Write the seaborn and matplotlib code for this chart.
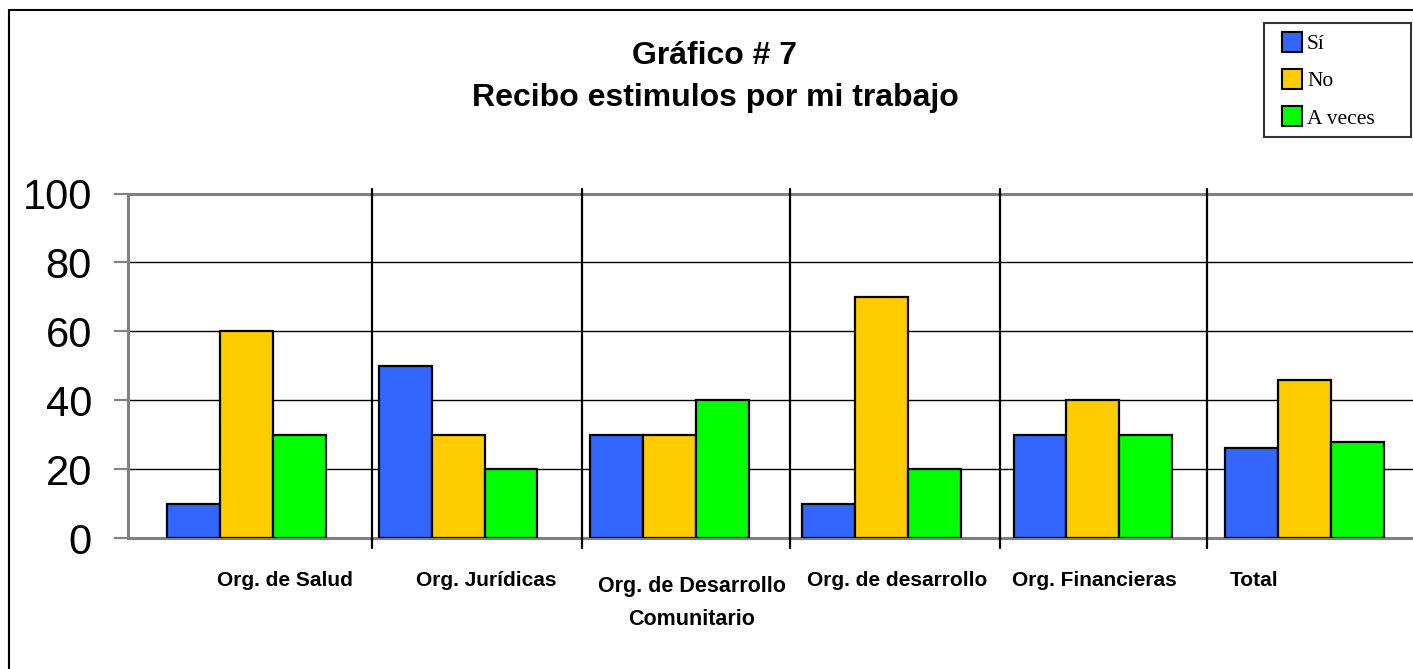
import matplotlib
matplotlib.use("Agg")
import matplotlib.pyplot as plt
import matplotlib.transforms as mtransforms
from matplotlib.patches import Patch, Rectangle
from matplotlib.lines import Line2D
from matplotlib.legend_handler import HandlerPatch
import seaborn as sns
import pandas as pd

# ---- data ----
categories = ["Org. de Salud", "Org. Jurídicas", "Org. de Desarrollo\nComunitario",
              "Org. de desarrollo", "Org. Financieras", "Total"]
series = ["Sí", "No", "A veces"]
si_values = [10, 50, 30, 10, 30, 26]
no_values = [60, 30, 30, 70, 40, 46]
aveces_values = [30, 20, 40, 20, 30, 28]
yticks = [0, 20, 40, 60, 80, 100]
title_text = "Gráfico # 7\nRecibo estimulos por mi trabajo"
colors = ["#3366FF", "#FFCC00", "#00FF00"]

df = pd.DataFrame({
    "cat": categories * 3,
    "serie": [series[0]] * 6 + [series[1]] * 6 + [series[2]] * 6,
    "val": si_values + no_values + aveces_values,
})

sns.set_theme(style="white")
plt.rcParams["font.family"] = ["Liberation Sans", "DejaVu Sans"]
plt.rcParams["text.color"] = "black"
plt.rcParams["xtick.color"] = "black"
plt.rcParams["ytick.color"] = "black"

W, H = 1413, 669
fig = plt.figure(figsize=(W / 100, H / 100), dpi=100)
fig.patch.set_facecolor("white")

ax_l, ax_r, ax_t, ax_b = 128, 1413, 193.5, 538
ax = fig.add_axes([ax_l / W, 1 - ax_b / H, (ax_r - ax_l) / W, (ax_b - ax_t) / H])

sns.barplot(data=df, x="cat", y="val", hue="serie", hue_order=series,
            palette=colors, width=0.75, edgecolor="black", linewidth=1.6,
            saturation=1, legend=False, ax=ax, zorder=3)

ax.set_ylim(0, 100)
ax.set_xlim(-0.56, 5.513)
ax.set_xlabel("")
ax.set_ylabel("")

# grid
ax.set_yticks(yticks)
ax.set_yticklabels([str(v) for v in yticks], fontsize=30, color="black")
ax.yaxis.grid(True, color="black", linewidth=1.0, zorder=0)
ax.xaxis.grid(False)
ax.set_axisbelow(True)
ax.tick_params(axis="y", direction="out", length=10, width=1.5, color="#808080",
               pad=16, left=True, labelcolor="black")
for s in ["top", "bottom", "left"]:
    ax.spines[s].set_visible(True)
    ax.spines[s].set_color("#808080")
    ax.spines[s].set_linewidth(2.2)
    ax.spines[s].set_zorder(2)
ax.spines["right"].set_visible(False)

# vertical separators between categories
divider_pos = [0.593, 1.586, 2.568, 3.561, 4.538]
for xp in divider_pos:
    ax.add_line(Line2D([xp, xp], [-2.9, 101.3], color="black",
                       linewidth=1.6, clip_on=False, zorder=4))

# x tick labels
ax.set_xticks(range(len(categories)))
ax.set_xticklabels(categories, fontsize=15, fontweight="bold", linespacing=1.72,
                   color="black")
ax.tick_params(axis="x", length=0, pad=24)
offsets = [38, 28, 22, 16, 2, -50]
voff = [0, 0, -5, 0, 0, 0]
for lab, dx, dy in zip(ax.get_xticklabels(), offsets, voff):
    lab.set_transform(lab.get_transform() +
                      mtransforms.ScaledTranslation(dx / 100, dy / 100, fig.dpi_scale_trans))
ax.get_xticklabels()[2].set_fontsize(15.5)

# title
fig.text(715 / W, 1 - 77 / H, title_text, ha="center", va="center",
         fontsize=23, fontweight="bold", linespacing=1.55, color="black")


# legend
def square_right(legend, orig_handle, xdescent, ydescent, width, height, fontsize):
    side = height
    return Rectangle((-xdescent + width - side, -ydescent), side, side)


handles = [Patch(facecolor=c, edgecolor="black", linewidth=1.5) for c in colors]
leg = fig.legend(handles, series, loc="upper left", mode="expand",
                 bbox_to_anchor=(1264 / W, 1 - 144 / H, 147 / W, 121 / H),
                 prop={"family": "Liberation Serif", "size": 15.5},
                 frameon=True, fancybox=False, shadow=False,
                 handlelength=1.35, handleheight=1.05, handletextpad=0.25,
                 labelspacing=0.7, borderpad=0.4, borderaxespad=0,
                 handler_map={Patch: HandlerPatch(patch_func=square_right)})
leg.get_frame().set_edgecolor("black")
leg.get_frame().set_linewidth(1.5)
for t in leg.get_texts():
    t.set_color("black")

# outer border (left and top)
fig.add_artist(Line2D([9 / W, 9 / W], [0, 1 - 10 / H], transform=fig.transFigure,
                      color="black", linewidth=1.5))
fig.add_artist(Line2D([9 / W, 1], [1 - 10 / H, 1 - 10 / H], transform=fig.transFigure,
                      color="black", linewidth=1.5))

fig.savefig("out.png", dpi=100)
